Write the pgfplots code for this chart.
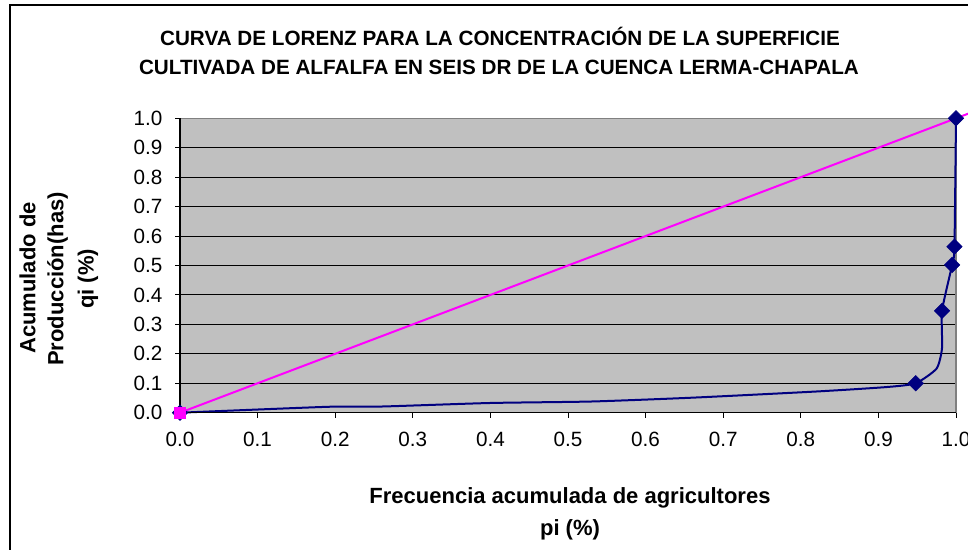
\documentclass[border=0pt]{standalone}
\usepackage{fontspec}
\setmainfont{Liberation Sans}
\usepackage{pgfplots}
\pgfplotsset{compat=1.18}
\definecolor{navyc}{HTML}{000080}
\definecolor{magc}{HTML}{FF00FF}
\definecolor{plotgray}{HTML}{C0C0C0}
\definecolor{bordergray}{HTML}{808080}
\begin{document}
\begin{tikzpicture}[x=0.75pt,y=0.75pt]
\useasboundingbox (0,0) rectangle (968,550);
\clip (0,0) rectangle (968,550);
\fill[white] (0,0) rectangle (968,550);
\draw[black, line width=1.1pt] (10,545) rectangle (1100,-100);
\coordinate (A) at (180,137.3);
\begin{axis}[
  at={(A)}, anchor=south west,
  scale only axis, width=582pt, height=220.8pt,
  xmin=0, xmax=1, ymin=0, ymax=1,
  clip=false,
  axis background/.style={fill=plotgray},
  axis line style={draw=bordergray, line width=1pt},
  ymajorgrids, grid style={black, line width=0.75pt},
  xtick={0,0.1,0.2,0.3,0.4,0.5,0.6,0.7,0.8,0.9,1},
  ytick={0,0.1,0.2,0.3,0.4,0.5,0.6,0.7,0.8,0.9,1},
  xtick pos=left, ytick pos=left,
  tick align=outside, major tick length=3.75pt,
  tick style={black, line width=0.75pt},
  ticklabel style={font=\fontsize{15.5}{18}\selectfont},
  xticklabel style={yshift=-7.5pt},
  yticklabel style={xshift=-6pt},
  /pgf/number format/.cd, fixed, fixed zerofill, precision=1, assume math mode=true,
  /pgfplots/.cd,
]
\addplot[magc, line width=1.5pt, no marks] coordinates {(0,0) (1,1) (1.02,1.02)};
\addplot[navyc, line width=1.5pt, smooth, tension=0.35, no marks] coordinates {
(0,0) (0.19,0.02) (0.26,0.021) (0.40,0.033) (0.53,0.038) (0.66,0.051) (0.82,0.072) (0.91,0.087)
(0.948,0.10) (0.975,0.15) (0.982,0.22) (0.982,0.346) (0.995,0.502) (0.998,0.564) (1.0,1.0)};
\addplot[only marks, mark=square*, mark size=4.1pt, mark options={rotate=45, fill=navyc, draw=navyc}] coordinates {
(0,0) (0.948,0.10) (0.982,0.346) (0.995,0.502) (0.998,0.564) (1.0,1.0)};
\addplot[only marks, mark=square*, mark size=4.3pt, mark options={fill=magc, draw=magc}] coordinates {(0,0)};
\draw[black, line width=1pt] (rel axis cs:0,1) -- (rel axis cs:0,0) -- (rel axis cs:1,0);
\end{axis}
\node[font=\bfseries\fontsize{15.5}{18}\selectfont] at (500,514) {CURVA DE LORENZ PARA LA CONCENTRACIÓN DE LA SUPERFICIE};
\node[font=\bfseries\fontsize{15.5}{18}\selectfont] at (499,483) {CULTIVADA DE ALFALFA EN SEIS DR DE LA CUENCA LERMA-CHAPALA};
\node[font=\bfseries\fontsize{16.5}{19}\selectfont] at (570,52) {Frecuencia acumulada de agricultores};
\node[font=\bfseries\fontsize{16.5}{19}\selectfont] at (570,20) {pi (\%)};
\node[font=\bfseries\fontsize{16.5}{19}\selectfont, rotate=90] at (27.5,272) {Acumulado de};
\node[font=\bfseries\fontsize{16.5}{19}\selectfont, rotate=90] at (57.5,271) {Producción(has)};
\node[font=\bfseries\fontsize{16.5}{19}\selectfont, rotate=90] at (88,271) {qi (\%)};
\end{tikzpicture}
\end{document}
